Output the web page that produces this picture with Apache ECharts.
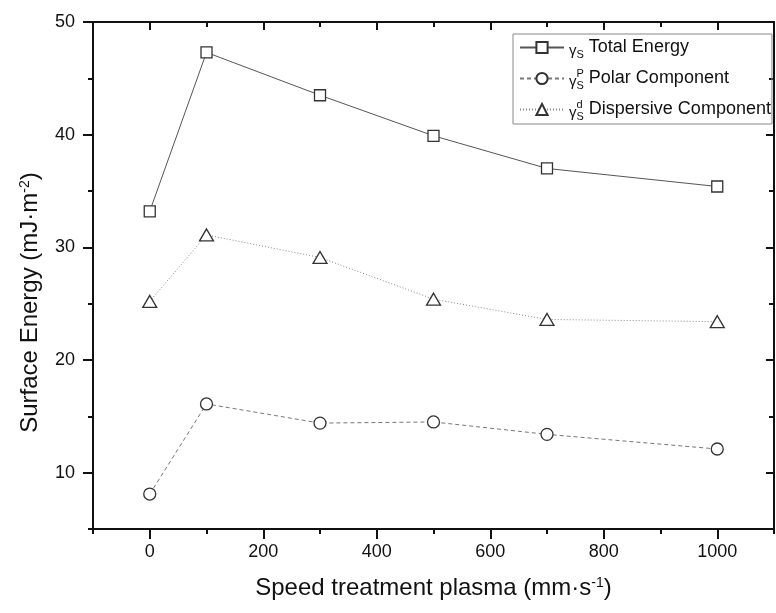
<!DOCTYPE html>
<html>
<head>
<meta charset="utf-8">
<script src="https://cdn.jsdelivr.net/npm/echarts@6/dist/echarts.min.js"></script>
<style>
  html, body { margin: 0; padding: 0; background: #fff; }
  #surfaceChart { width: 776px; height: 613px; }
</style>
</head>
<body>
<div id="surfaceChart"></div>
<script>
// speed of plasma treatment (mm/s)
var speeds = [0, 100, 300, 500, 700, 1000]
// surface energy values (mJ/m2)
var totalEnergy = [33.2, 47.3, 43.5, 39.9, 37.0, 35.4]
var polarComp = [8.1, 16.1, 14.4, 14.5, 13.4, 12.1]
var dispersiveComp = [25.2, 31.1, 29.1, 25.4, 23.6, 23.4]

var xMajorTicks = [0, 200, 400, 600, 800, 1000]
var xMinorTicks = [-100, 100, 300, 500, 700, 900, 1100]
var yMajorTicks = [10, 20, 30, 40, 50]
var yMinorTicks = [5, 15, 25, 35, 45]

var font = 'Liberation Sans, Arial, sans-serif'
var black = '#111'

function pairs (ys) {
  return speeds.map(function (x, i) { return [x, ys[i]] })
}

// one axis of the box: only ticks (major or minor), labels optional
function xAxisPart (pos, ticks, len, inside, withLabels) {
  return {
    type: 'value',
    position: pos,
    min: -100,
    max: 1100,
    axisLine: { show: true, onZero: false, lineStyle: { color: black, width: 2 } },
    axisTick: { show: true, customValues: ticks, length: len, inside: inside, lineStyle: { color: black, width: 2 } },
    axisLabel: withLabels
      ? {
          show: true, customValues: xMajorTicks, fontSize: 18, fontFamily: font, color: black, margin: 14,
          formatter: function (v) { return String(v) }
        }
      : { show: false },
    splitLine: { show: false }
  }
}

function yAxisPart (pos, ticks, len, inside, withLabels) {
  return {
    type: 'value',
    position: pos,
    min: 5,
    max: 50,
    axisLine: { show: true, onZero: false, lineStyle: { color: black, width: 2 } },
    axisTick: { show: true, customValues: ticks, length: len, inside: inside, lineStyle: { color: black, width: 2 } },
    axisLabel: withLabels
      ? { show: true, customValues: yMajorTicks, fontSize: 18, fontFamily: font, color: black, margin: 18 }
      : { show: false },
    splitLine: { show: false }
  }
}

var xBottom = xAxisPart('bottom', xMajorTicks, 10, false, true)
xBottom.name = 'Speed treatment plasma (mm·s{sup|-1})'
xBottom.nameLocation = 'middle'
xBottom.nameGap = 47
xBottom.nameTextStyle = {
  fontSize: 24, fontFamily: font, color: black,
  rich: { sup: { fontSize: 14, fontFamily: font, color: black, verticalAlign: 'top', padding: [0, 0, 10, 0] } }
}

var yLeft = yAxisPart('left', yMajorTicks, 10, false, true)
yLeft.name = 'Surface Energy (mJ·m{sup|-2})'
yLeft.nameLocation = 'middle'
yLeft.nameGap = 51
yLeft.nameTextStyle = {
  fontSize: 24, fontFamily: font, color: black, padding: [0, 54, 0, 0],
  rich: { sup: { fontSize: 14, fontFamily: font, color: black, verticalAlign: 'top', padding: [0, 0, 10, 0] } }
}

var legendRich = {
  g: { fontSize: 15, fontFamily: font, color: black, verticalAlign: 'bottom', padding: [0, 0, 2, 0] },
  s: { fontSize: 11, fontFamily: font, color: black, verticalAlign: 'bottom' },
  p: { fontSize: 11, fontFamily: font, color: black, verticalAlign: 'top', width: 0.01, padding: [2, 0, 0, 0] },
  t: { fontSize: 18, fontFamily: font, color: black }
}
var legendNames = {
  'Total Energy': '{g|γ}{s|S}{t| Total Energy}',
  'Polar Component': '{g|γ}{p|P}{s|S}{t| Polar Component}',
  'Dispersive Component': '{g|γ}{p|d}{s|S}{t| Dispersive Component}'
}

var myChart = echarts.init(document.getElementById('surfaceChart'))

var option = {
  animation: false,
  backgroundColor: '#fff',
  grid: { left: 93, right: 2, top: 22, bottom: 84 },
  legend: {
    orient: 'vertical',
    left: 513,
    top: 34,
    padding: [1, 1, 2, 6],
    itemWidth: 44,
    itemHeight: 14,
    itemGap: 6,
    borderColor: '#888',
    borderWidth: 1,
    textStyle: { fontSize: 18, fontFamily: font, color: black, lineHeight: 25, rich: legendRich },
    formatter: function (name) { return legendNames[name] },
    data: ['Total Energy', 'Polar Component', 'Dispersive Component']
  },
  xAxis: [
    xBottom,
    xAxisPart('bottom', xMinorTicks, 5, false, false),
    xAxisPart('top', xMajorTicks, 8, true, false),
    xAxisPart('top', xMinorTicks, 5, true, false)
  ],
  yAxis: [
    yLeft,
    yAxisPart('left', yMinorTicks, 5, false, false),
    yAxisPart('right', yMajorTicks, 8, true, false),
    yAxisPart('right', yMinorTicks, 5, true, false)
  ],
  series: [
    {
      name: 'Total Energy',
      type: 'line',
      data: pairs(totalEnergy),
      symbol: 'rect',
      symbolSize: 11,
      lineStyle: { color: '#555', width: 1, type: 'solid' },
      itemStyle: { color: '#fff', borderColor: '#333', borderWidth: 1.3 },
      z: 3
    },
    {
      name: 'Polar Component',
      type: 'line',
      data: pairs(polarComp),
      symbol: 'circle',
      symbolSize: 12,
      lineStyle: { color: '#777', width: 1, type: [4, 3] },
      itemStyle: { color: '#fff', borderColor: '#333', borderWidth: 1.3 },
      z: 3
    },
    {
      name: 'Dispersive Component',
      type: 'line',
      data: pairs(dispersiveComp),
      symbol: 'triangle',
      symbolSize: [14, 12],
      lineStyle: { color: '#888', width: 1, type: [1, 2] },
      itemStyle: { color: '#fff', borderColor: '#333', borderWidth: 1.3 },
      z: 3
    }
  ]
}

myChart.setOption(option)
</script>
</body>
</html>
